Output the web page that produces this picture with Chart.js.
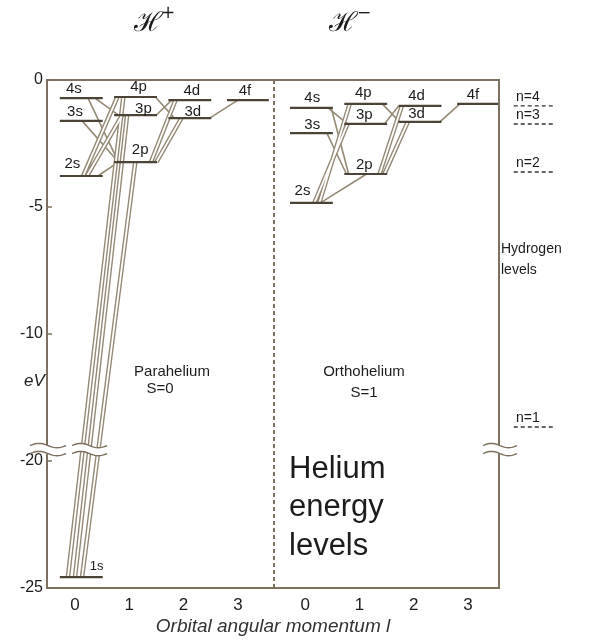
<!DOCTYPE html>
<html>
<head>
<meta charset="utf-8">
<script src="https://cdn.jsdelivr.net/npm/chart.js@4.4.1/dist/chart.umd.min.js"></script>
<style>
  html, body { margin: 0; padding: 0; background: #fff; }
</style>
</head>
<body>
<canvas id="c" width="592" height="643"></canvas>
<script>
// parahelium (S=0) levels
const paraNames = ['1s', '2s', '3s', '4s', '2p', '3p', '4p', '3d', '4d', '4f'];
const paraL     = [0, 0, 0, 0, 1, 1, 1, 2, 2, 3];
const paraE     = [-24.57, -3.78, -1.61, -0.71, -3.23, -1.38, -0.67, -1.50, -0.79, -0.79];

// orthohelium (S=1) levels
const orthoNames = ['2s', '3s', '4s', '2p', '3p', '4p', '3d', '4d', '4f'];
const orthoL     = [0, 0, 0, 1, 1, 1, 2, 2, 3];
const orthoE     = [-4.84, -2.09, -1.10, -3.70, -1.73, -0.94, -1.65, -1.02, -0.94];

// transitions (from, to), and whether drawn as double line
const paraPairs  = [['1s','4p'],['1s','3p'],['1s','2p'],['2s','4p'],['2s','3p'],['2s','2p'],['3s','2p'],
                    ['4s','2p'],['4s','3p'],['4p','3d'],['3p','4d'],['2p','4d'],['2p','3d'],['3d','4f']];
const paraDouble = [1, 1, 1, 1, 1, 0, 0, 0, 0, 0, 0, 1, 1, 0];
const orthoPairs  = [['2s','4p'],['2s','3p'],['2s','2p'],['3s','2p'],['4s','2p'],['4s','3p'],
                     ['4p','3d'],['3p','4d'],['2p','4d'],['2p','3d'],['3d','4f']];
const orthoDouble = [1, 1, 0, 0, 0, 0, 0, 0, 1, 1, 0];

// hydrogen reference levels
const hydroNames = ['n=4', 'n=3', 'n=2', 'n=1'];
const hydroE     = [-1.02, -1.73, -3.62, -13.66];

// axes
const xTickText = ['0', '1', '2', '3', '0', '1', '2', '3'];
const yTickVals = [0, -5, -10, -15, -20];
const yTickText = ['0', '-5', '-10', '-20', '-25'];

// ---- layout ----
const PANEL_X = [0, 4.24];
const X_MIN = -0.516, X_MAX = 7.81;
const DIVIDER_X = 3.665;
const HYDRO_X = [8.07, 8.80];
const FRAME = '#7c715e', LEVEL = '#4a4336', TRANS = '#948a76', INK = '#1c1c1c';
const FONT = '"Liberation Sans", Arial, sans-serif';

// where each transition touches its two levels (offset from level's l)
const paraAttach = [[-0.13,-0.11],[0,-0.04],[0.13,0.11],[0.15,-0.22],[0.22,-0.13],[0.42,-0.2],[0.13,-0.2],
                    [0.24,-0.2],[0.37,-0.2],[0.48,-0.17],[0.5,-0.22],[0.40,-0.15],[0.5,-0.04],[0.48,0]];
const orthoAttach = [[0.26,-0.18],[0.17,-0.22],[0.28,0.13],[0.4,-0.24],[0.48,-0.2],[0.42,-0.22],
                     [0.42,-0.26],[0.46,-0.28],[0.37,-0.22],[0.46,-0.11],[0.48,-0.15]];
// label offsets [dx in l units, dy in px]
const paraLabelOff = {'1s':[0.4,-11],'2s':[-0.05,-12],'3s':[0,-9],'4s':[-0.02,-9],'2p':[0.2,-12],
                      '3p':[0.26,-6],'4p':[0.17,-10],'3d':[0.17,-6],'4d':[0.15,-9],'4f':[0.13,-9]};
const orthoLabelOff = {'2s':[-0.05,-12],'3s':[0.13,-8],'4s':[0.13,-10],'2p':[0.09,-9],'3p':[0.09,-9],
                       '4p':[0.07,-11],'3d':[0.05,-8],'4d':[0.05,-10],'4f':[0.09,-9]};

const xTickPos = [0, 1, 2, 3].map(v => v + PANEL_X[0]).concat([0, 1, 2, 3].map(v => v + PANEL_X[1]));

// broken axis: values below -15 eV are drawn 5 eV higher
const plotE = e => (e < -15 ? e + 5 : e);

function panel(names, ls, es, p) {
  const m = {};
  names.forEach((n, i) => { m[n] = { x: ls[i] + PANEL_X[p], y: plotE(es[i]), l: ls[i] }; });
  return m;
}
const para = panel(paraNames, paraL, paraE, 0);
const ortho = panel(orthoNames, orthoL, orthoE, 1);

const levelPts = [];
[para, ortho].forEach(m => {
  Object.values(m).forEach(v => {
    const span = v.l === 3 ? [-0.2, 0.57] : [-0.28, 0.51];
    levelPts.push({ x: v.x + span[0], y: v.y }, { x: v.x + span[1], y: v.y }, { x: v.x, y: null });
  });
});

const singlePts = [], doublePts = [];
function addTrans(m, pairs, dbl, att) {
  pairs.forEach((pr, i) => {
    const a = m[pr[0]], b = m[pr[1]];
    const tgt = dbl[i] ? doublePts : singlePts;
    tgt.push({ x: a.x + att[i][0], y: a.y }, { x: b.x + att[i][1], y: b.y }, { x: a.x, y: null });
  });
}
addTrans(para, paraPairs, paraDouble, paraAttach);
addTrans(ortho, orthoPairs, orthoDouble, orthoAttach);

const hydroPts = [];
hydroE.forEach(e => {
  hydroPts.push({ x: HYDRO_X[1], y: e }, { x: HYDRO_X[0], y: e }, { x: HYDRO_X[0], y: null });
});

const decor = {
  id: 'decor',
  afterDraw(chart) {
    const { ctx, chartArea: ca, scales: { x, y } } = chart;
    ctx.save();
    // top and right frame edges
    ctx.strokeStyle = FRAME; ctx.lineWidth = 2;
    ctx.beginPath();
    ctx.moveTo(ca.left - 1, ca.top); ctx.lineTo(ca.right, ca.top); ctx.lineTo(ca.right, ca.bottom + 1);
    ctx.stroke();
    // inner y ticks
    ctx.lineWidth = 1.5;
    yTickVals.forEach(v => {
      const py = y.getPixelForValue(v);
      ctx.beginPath(); ctx.moveTo(ca.left, py); ctx.lineTo(ca.left + 5, py); ctx.stroke();
    });
    // axis break marks
    const yb = y.getPixelForValue(-14.55);
    [[30, 66], [72, 107], [483, 517]].forEach(([x0, x1]) => {
      const wave = (off, t) => yb + off - 2.2 * Math.sin(2 * Math.PI * t);
      ctx.beginPath();
      for (let i = 0; i <= 20; i++) { const t = i / 20; ctx.lineTo(x0 + t * (x1 - x0), wave(-4, t)); }
      for (let i = 20; i >= 0; i--) { const t = i / 20; ctx.lineTo(x0 + t * (x1 - x0), wave(4, t)); }
      ctx.closePath(); ctx.fillStyle = '#fff'; ctx.fill();
      ctx.strokeStyle = FRAME; ctx.lineWidth = 1.4;
      [-4, 4].forEach(off => {
        ctx.beginPath();
        for (let i = 0; i <= 20; i++) { const t = i / 20; ctx.lineTo(x0 + t * (x1 - x0), wave(off, t)); }
        ctx.stroke();
      });
    });
    // level labels
    ctx.fillStyle = INK; ctx.textAlign = 'center'; ctx.textBaseline = 'middle';
    [[para, paraLabelOff], [ortho, orthoLabelOff]].forEach(([m, off]) => {
      Object.keys(m).forEach(n => {
        const v = m[n], o = off[n];
        ctx.font = (n === '1s' ? '13px ' : '15px ') + FONT;
        ctx.fillText(n, x.getPixelForValue(v.x + o[0]), y.getPixelForValue(v.y) + o[1]);
      });
    });
    // hydrogen labels
    ctx.font = '14px ' + FONT; ctx.textAlign = 'left';
    hydroE.forEach((e, i) => {
      ctx.fillText(hydroNames[i], 516, y.getPixelForValue(e) - 9);
    });
    ctx.fillText('Hydrogen', 501, 249);
    ctx.fillText('levels', 501, 270);
    // panel captions
    ctx.font = '15px ' + FONT; ctx.textAlign = 'center';
    ctx.fillText('Parahelium', 172, 372);
    ctx.fillText('S=0', 160, 389);
    ctx.fillText('Orthohelium', 364, 372);
    ctx.fillText('S=1', 364, 393);
    ctx.font = 'italic 17px ' + FONT; ctx.textAlign = 'left';
    ctx.fillText('eV', 24, 381);
    ctx.font = '31px ' + FONT;
    ctx.fillText('Helium', 289, 469);
    ctx.fillText('energy', 289, 507);
    ctx.fillText('levels', 289, 546);
    // symmetry labels at top
    ctx.font = '27px "DejaVu Serif", serif'; ctx.textAlign = 'left';
    ctx.fillText('ℋ', 134, 24); ctx.fillText('ℋ', 329, 24);
    ctx.font = '17px "DejaVu Sans", sans-serif';
    ctx.fillText('+', 161, 14); ctx.fillText('−', 357, 14);
    ctx.restore();
  }
};

new Chart(document.getElementById('c'), {
  type: 'line',
  data: {
    datasets: [
      { data: levelPts, borderColor: LEVEL, borderWidth: 2.2, order: 0 },
      { data: hydroPts, borderColor: '#333', borderWidth: 1.4, borderDash: [4, 3], clip: false, order: 0 },
      { data: [{ x: DIVIDER_X, y: 0 }, { x: DIVIDER_X, y: -20 }], borderColor: FRAME, borderWidth: 2, borderDash: [4, 3], order: 1 },
      { data: doublePts, borderColor: '#fff', borderWidth: 1.8, order: 2 },
      { data: doublePts, borderColor: TRANS, borderWidth: 4.6, order: 3 },
      { data: singlePts, borderColor: TRANS, borderWidth: 1.6, order: 4 }
    ]
  },
  options: {
    responsive: false,
    animation: false,
    spanGaps: false,
    layout: { padding: { top: 80, right: 93, left: 0, bottom: 0 } },
    elements: { point: { radius: 0, hoverRadius: 0 }, line: { tension: 0, fill: false, borderCapStyle: 'butt' } },
    plugins: { legend: { display: false }, tooltip: { enabled: false } },
    events: [],
    scales: {
      x: {
        type: 'linear', min: X_MIN, max: X_MAX,
        afterFit(s) { s.height = 55; },
        afterBuildTicks(s) { s.ticks = xTickPos.map(v => ({ value: v })); },
        ticks: { callback: (v, i) => xTickText[i], font: { size: 17, family: FONT }, color: INK, padding: 7, autoSkip: false, maxRotation: 0 },
        grid: { drawOnChartArea: false, drawTicks: false, color: 'rgba(0,0,0,0)' },
        border: { display: true, color: FRAME, width: 2 },
        title: { display: true, text: 'Orbital angular momentum l', font: { size: 19, style: 'italic', family: FONT }, color: '#333', padding: { top: 0, bottom: 5 } }
      },
      y: {
        type: 'linear', min: -20, max: 0,
        afterFit(s) { s.width = 47; },
        afterBuildTicks(s) { s.ticks = yTickVals.map(v => ({ value: v })); },
        ticks: { callback: v => yTickText[yTickVals.indexOf(v)], font: { size: 16, family: FONT }, color: INK, padding: 4, autoSkip: false },
        grid: { drawOnChartArea: false, drawTicks: false, color: 'rgba(0,0,0,0)' },
        border: { display: true, color: FRAME, width: 2 }
      }
    }
  },
  plugins: [decor]
});
</script>
</body>
</html>
